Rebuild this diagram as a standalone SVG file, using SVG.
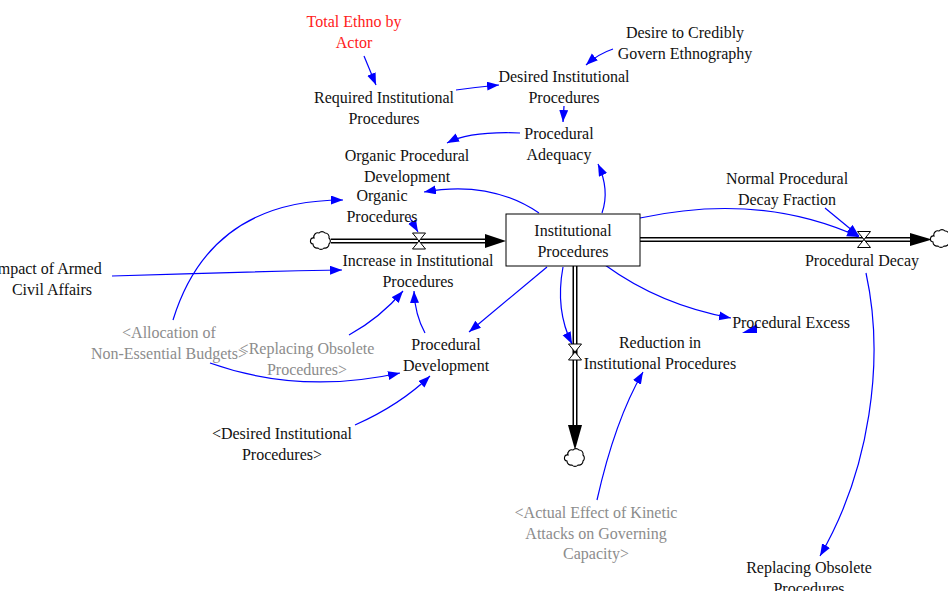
<svg xmlns="http://www.w3.org/2000/svg" width="948" height="591" viewBox="0 0 948 591">
<style>
text{font-family:"Liberation Serif","Times New Roman",serif;font-size:16px;fill:#111;text-anchor:middle}
.g{fill:#8c8c8c}
.r{fill:#ff2020}
.c{fill:none;stroke:#0000ff;stroke-width:1.2;marker-end:url(#a)}
.po{fill:none;stroke:#000;stroke-width:5}
.pi{fill:none;stroke:#fff;stroke-width:2}
.v{fill:#fff;stroke:#000;stroke-width:1}
.cl{fill:#fff;stroke:#000;stroke-width:1.1}
</style>
<defs>
<marker id="a" markerUnits="userSpaceOnUse" markerWidth="13" markerHeight="10" refX="12" refY="4.5" orient="auto"><path d="M0,0 L12,4.5 L0,9 z" fill="#0000ff"/></marker>
<path id="cloud" d="M-7,-3 a4,4 0 0,1 5,-5 a4,4 0 0,1 6,0 a4,4 0 0,1 4,5 a4,4 0 0,1 0,6 a4,4 0 0,1 -5,4 a4,4 0 0,1 -6,0 a4,4 0 0,1 -5,-4 a3,3 0 0,1 1,-6 z"/>
<path id="valve" d="M-6.5,-8 L6.5,-8 L-6.5,8 L6.5,8 Z"/>
</defs>
<rect width="948" height="591" fill="#fff"/>

<g id="flows">
<path class="po" d="M331,241 L490,241"/><path class="pi" d="M331,241 L490,241"/>
<polygon points="485,234 506,241 485,248" fill="#000"/>
<path class="po" d="M640,239.5 L914,239.5"/><path class="pi" d="M640,239.5 L914,239.5"/>
<polygon points="910,233 932,239.5 910,246" fill="#000"/>
<path class="po" d="M575,266 L575,430"/><path class="pi" d="M575,266 L575,430"/>
<polygon points="568,425 575,450 582,425" fill="#000"/>
</g>

<g id="connectors">
<path class="c" d="M364,56 L376,85"/>
<path class="c" d="M456,90 Q478,87 499,85"/>
<path class="c" d="M613,49 Q598,54 586,65"/>
<path class="c" d="M564,106 L563,122"/>
<path class="c" d="M520,133 Q470,131 447,143"/>
<path class="c" d="M602,213 Q610,190 598,164"/>
<path class="c" d="M539,213 Q490,180 424,192"/>
<path class="c" d="M410,218 L418,232"/>
<path class="c" d="M173,320 Q210,200 343,200"/>
<path class="c" d="M112,276 Q230,272 342,270"/>
<path class="c" d="M349,335 Q380,318 403,291"/>
<path class="c" d="M425,333 Q415,315 414,291"/>
<path class="c" d="M210,363 Q300,395 400,373"/>
<path class="c" d="M355,425 Q400,405 430,376"/>
<path class="c" d="M547,267 L469,332"/>
<path class="c" d="M563,267 Q555,310 572,344"/>
<path class="c" d="M605,265 Q660,305 731,318"/>
<path class="c" d="M597,500 Q615,420 643,372"/>
<path class="c" d="M640,218 Q760,192 859,237"/>
<path class="c" d="M825,208 L859,236"/>
<path class="c" d="M866,273 C885,360 870,470 820,556"/>
<polygon points="742,333 757,324 757,333" fill="#0000ff"/>
</g>

<g id="clouds">
<use href="#cloud" class="cl" x="321" y="241"/>
<use href="#cloud" class="cl" x="941" y="239"/>
<use href="#cloud" class="cl" x="575" y="458"/>
</g>

<g id="valves">
<use href="#valve" class="v" x="419" y="241"/>
<use href="#valve" class="v" x="864" y="239.5"/>
<use href="#valve" class="v" x="575" y="352"/>
</g>

<g id="institutional-procedures">
<rect x="506" y="214" width="134" height="52" fill="#fff" stroke="#000" stroke-width="1"/>
<text x="573" y="236">Institutional</text><text x="573" y="257">Procedures</text>
</g>
<g id="total-ethno"><text class="r" x="354" y="27">Total Ethno by</text><text class="r" x="354" y="48">Actor</text></g>
<g id="required"><text x="384" y="103">Required Institutional</text><text x="384" y="124">Procedures</text></g>
<g id="desired"><text x="564" y="82">Desired Institutional</text><text x="564" y="103">Procedures</text></g>
<g id="desire-credibly"><text x="685" y="38">Desire to Credibly</text><text x="685" y="59">Govern Ethnography</text></g>
<g id="adequacy"><text x="559" y="139">Procedural</text><text x="559" y="160">Adequacy</text></g>
<g id="organic-dev"><text x="407" y="161">Organic Procedural</text><text x="407" y="182">Development</text></g>
<g id="organic-proc"><text x="382" y="201">Organic</text><text x="382" y="222">Procedures</text></g>
<g id="increase"><text x="418" y="266">Increase in Institutional</text><text x="418" y="287">Procedures</text></g>
<g id="impact"><text x="47" y="274">Impact of Armed</text><text x="52" y="295">Civil Affairs</text></g>
<g id="normal-decay"><text x="787" y="184">Normal Procedural</text><text x="787" y="205">Decay Fraction</text></g>
<g id="decay"><text x="862" y="266">Procedural Decay</text></g>
<g id="excess"><text x="791" y="328">Procedural Excess</text></g>
<g id="reduction"><text x="660" y="348">Reduction in</text><text x="660" y="369">Institutional Procedures</text></g>
<g id="proc-dev"><text x="446" y="350">Procedural</text><text x="446" y="371">Development</text></g>
<g id="allocation"><text class="g" x="169" y="338">&lt;Allocation of</text><text class="g" x="169" y="359">Non-Essential Budgets&gt;</text></g>
<g id="replacing-shadow"><text class="g" x="307" y="354">&lt;Replacing Obsolete</text><text class="g" x="307" y="375">Procedures&gt;</text></g>
<g id="desired-shadow"><text x="282" y="439">&lt;Desired Institutional</text><text x="282" y="460">Procedures&gt;</text></g>
<g id="actual-effect"><text class="g" x="596" y="518">&lt;Actual Effect of Kinetic</text><text class="g" x="596" y="539">Attacks on Governing</text><text class="g" x="596" y="559">Capacity&gt;</text></g>
<g id="replacing"><text x="809" y="573">Replacing Obsolete</text><text x="809" y="594">Procedures</text></g>
</svg>
